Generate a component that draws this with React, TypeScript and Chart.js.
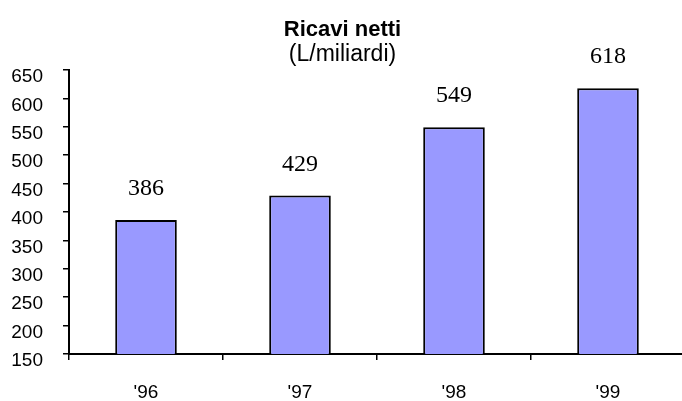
import React, { useEffect, useRef } from "react";
import { Chart, registerables } from "chart.js";

Chart.register(...registerables);

const categories = ["'96", "'97", "'98", "'99"];
const revenues = [386, 429, 549, 618];
const titleText = "Ricavi netti";
const subtitleText = "(L/miliardi)";
const yMin = 150;
const yMax = 650;
const yStep = 50;

const valueLabels = {
  id: "valueLabels",
  afterDatasetsDraw(chart: any) {
    const ctx = chart.ctx;
    const meta = chart.getDatasetMeta(0);
    ctx.save();
    ctx.font = '24px "Liberation Serif", "Times New Roman", serif';
    ctx.fillStyle = "#000";
    ctx.textAlign = "center";
    ctx.textBaseline = "alphabetic";
    meta.data.forEach((el: any, i: number) => {
      ctx.fillText(String(chart.data.datasets[0].data[i]), el.x, el.y - 25);
    });
    ctx.restore();
  },
};

export default function App() {
  const ref = useRef<HTMLCanvasElement | null>(null);
  useEffect(() => {
    if (!ref.current) return;
    const chart = new Chart(ref.current, {
      type: "bar",
      data: {
        labels: categories,
        datasets: [
          {
            data: revenues,
            backgroundColor: "#9999FF",
            borderColor: "#000000",
            borderWidth: 2,
            barPercentage: 0.4,
            categoryPercentage: 1,
          },
        ],
      },
      options: {
        responsive: false,
        animation: false,
        layout: { padding: { left: 0, right: 5, top: 0, bottom: 0 } },
        plugins: {
          legend: { display: false },
          tooltip: { enabled: false },
          title: {
            display: true,
            text: titleText,
            color: "#000",
            font: { family: "Arial, 'Liberation Sans', sans-serif", size: 22, weight: "bold", lineHeight: 1 },
            padding: { top: 19, bottom: 0 },
          },
          subtitle: {
            display: true,
            text: subtitleText,
            color: "#000",
            font: { family: "Arial, 'Liberation Sans', sans-serif", size: 23, lineHeight: 1 },
            padding: { top: 2.5, bottom: 3.5 },
          },
        },
        scales: {
          x: {
            offset: true,
            grid: {
              offset: true,
              drawOnChartArea: false,
              drawTicks: true,
              tickLength: 6,
              color: "#000",
              lineWidth: 1.5,
            },
            border: { display: true, color: "#000", width: 2 },
            ticks: {
              color: "#000",
              padding: 21,
              font: { family: "Arial, 'Liberation Sans', sans-serif", size: 19 },
            },
            afterFit(scale: any) {
              scale.height = 47;
            },
          },
          y: {
            min: yMin,
            max: yMax,
            grid: {
              drawOnChartArea: false,
              drawTicks: true,
              tickLength: 6,
              color: "#000",
              lineWidth: 1.5,
            },
            border: { display: true, color: "#000", width: 2 },
            ticks: {
              stepSize: yStep,
              color: "#000",
              padding: 20,
              labelOffset: 7,
              font: { family: "Arial, 'Liberation Sans', sans-serif", size: 19 },
            },
            afterFit(scale: any) {
              scale.width = 69;
            },
          },
        },
      },
      plugins: [valueLabels],
    });
    return () => chart.destroy();
  }, []);
  return (
    <div
      style={{
        position: "absolute",
        left: 0,
        top: 0,
        width: 682,
        height: 401,
        overflow: "hidden",
        background: "#fff",
      }}
    >
      <canvas ref={ref} width={690} height={401} style={{ display: "block" }} />
    </div>
  );
}
